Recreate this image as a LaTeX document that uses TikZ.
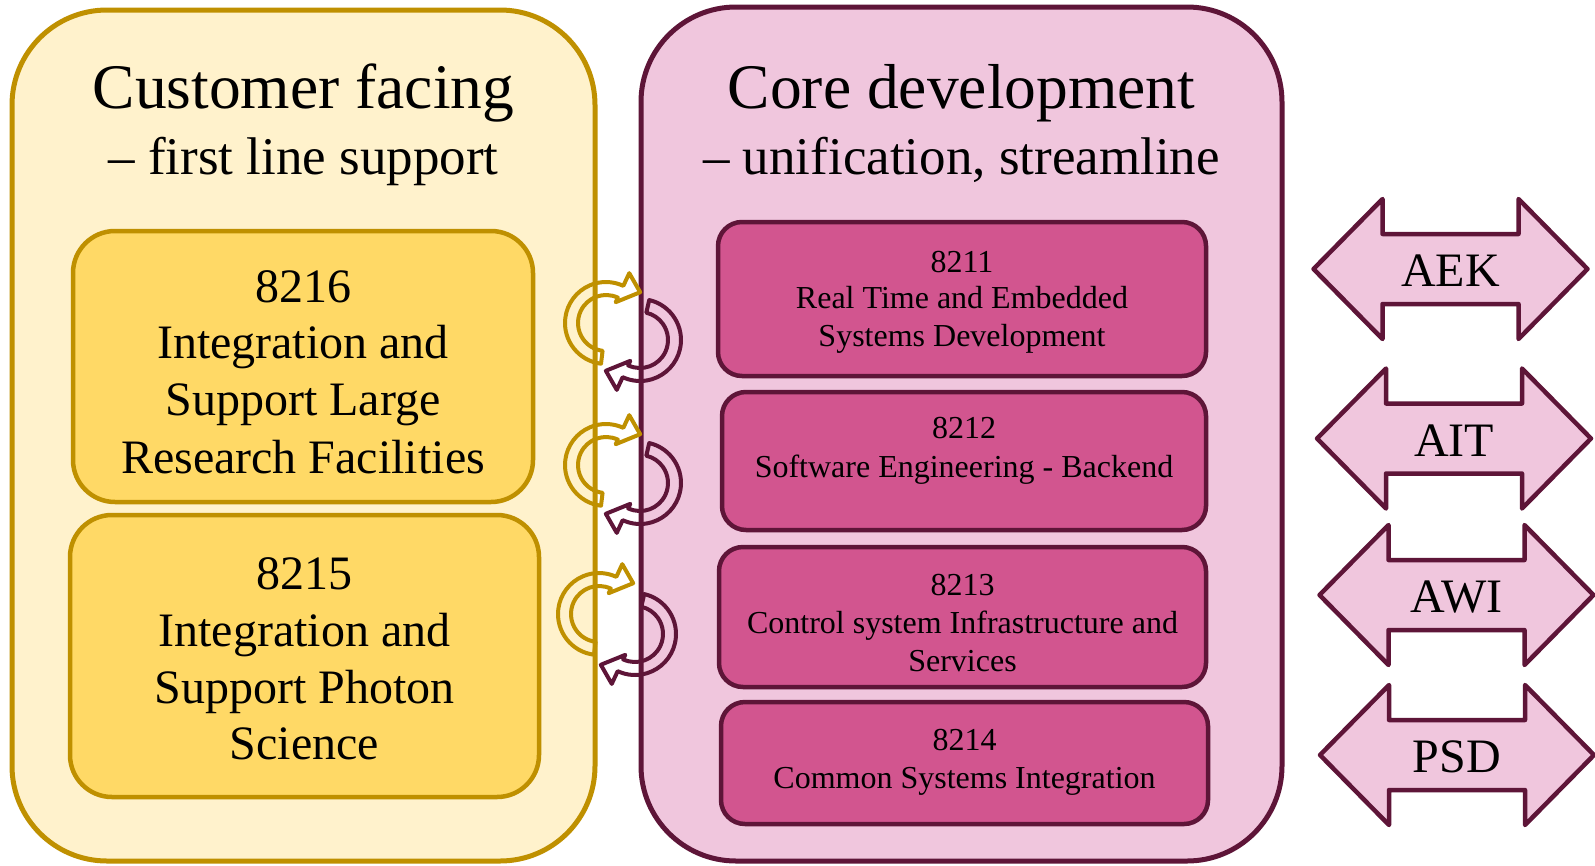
\documentclass[tikz,border=0pt]{standalone}
\usepackage{fontspec}
\setmainfont{LiberationSerif}[Extension=.ttf, UprightFont=*-Regular, BoldFont=*-Bold]

\definecolor{goldline}{HTML}{BF9000}
\definecolor{creambg}{HTML}{FFF2CC}
\definecolor{goldbox}{HTML}{FFD966}
\definecolor{plumline}{HTML}{5E1538}
\definecolor{pinkbg}{HTML}{F0C6DD}
\definecolor{pinkbox}{HTML}{D2558F}

% curved hollow arrow: centre x, centre y, tail angle, head-base angle, style
\newcommand{\swirl}[5]{%
  \pgfmathsetmacro{\swtip}{#4+23}%
  \draw[#5, shift={(#1,#2)}]
    (#3:41) arc[start angle=#3, end angle=#4, radius=41]
    -- (#4:55) -- (\swtip:46) -- (#4:23) -- (#4:28)
    arc[start angle=#4, end angle=#3, radius=28] -- cycle;}

% left-right block arrow with a label: name, centre x, centre y, label
\newcommand{\twoway}[4]{%
  \draw[dblarrow, shift={(#2,#3)}]
    (-137,0) -- (-68,-70) -- (-68,-35) -- (68,-35) -- (68,-70) -- (137,0)
    -- (68,70) -- (68,35) -- (-68,35) -- (-68,70) -- cycle;
  \node[arrowtext] (#1) at (#2,#3+17.5) {#4};}

\begin{document}
\begin{tikzpicture}[x=1pt,y=-1pt,
  leftpanel/.style={draw=goldline, fill=creambg, line width=5pt, rounded corners=95pt, inner sep=0pt},
  rightpanel/.style={draw=plumline, fill=pinkbg, line width=5pt, rounded corners=95pt, inner sep=0pt},
  ybox/.style={draw=goldline, fill=goldbox, line width=4.5pt, rounded corners=42pt, inner sep=0pt},
  pbox/.style={draw=plumline, fill=pinkbox, line width=4.5pt, rounded corners=24pt, inner sep=0pt},
  titletext/.style={anchor=base, inner sep=0pt, font=\fontsize{63.5}{66}\selectfont},
  subtext/.style={anchor=base, inner sep=0pt, font=\fontsize{53}{56}\selectfont},
  ytext/.style={anchor=base, inner sep=0pt, font=\fontsize{48}{57}\selectfont},
  ptext/.style={anchor=base, inner sep=0pt, font=\fontsize{32}{37}\selectfont},
  arrowtext/.style={anchor=base, inner sep=0pt, font=\fontsize{48}{52}\selectfont},
  dblarrow/.style={draw=plumline, fill=pinkbg, line width=4.5pt, line join=round},
  ygoldarrow/.style={draw=goldline, line width=4pt, line join=round},
  plumarrow/.style={draw=plumline, line width=4pt, line join=round}]
\useasboundingbox (0,0) rectangle (1595,865);

% the two large groups
\node[leftpanel, minimum width=583pt, minimum height=851pt] (cust) at (303.5,435.5) {};
\node[rightpanel, minimum width=641pt, minimum height=854pt] (core) at (961.5,434) {};

% group titles
\node[titletext] (custtitle) at (303.5,108) {Customer facing};
\node[subtext] (custsub) at (303.5,174) {– first line support};
\node[titletext] (coretitle) at (961.5,108) {Core development};
\node[subtext] (coresub) at (961.5,174) {– unification, streamline};

% customer facing groups
\node[ybox, minimum width=460pt, minimum height=271pt] (g8216) at (303,366.5) {};
\node[ytext] (g8216a) at (303,302) {8216};
\node[ytext] (g8216b) at (303,358) {Integration and};
\node[ytext] (g8216c) at (303,415) {Support Large};
\node[ytext] (g8216d) at (303,473) {Research Facilities};

\node[ybox, minimum width=469pt, minimum height=282pt] (g8215) at (304.5,656) {};
\node[ytext] (g8215a) at (304.5,589) {8215};
\node[ytext] (g8215b) at (304.5,646) {Integration and};
\node[ytext] (g8215c) at (304.5,703) {Support Photon};
\node[ytext] (g8215d) at (304.5,759) {Science};

% core development groups
\node[pbox, minimum width=488pt, minimum height=154pt] (g8211) at (962,299) {};
\node[ptext] (g8211a) at (962,272) {8211};
\node[ptext] (g8211b) at (962,308) {Real Time and Embedded};
\node[ptext] (g8211c) at (962,346) {Systems Development};

\node[pbox, minimum width=484pt, minimum height=138pt] (g8212) at (964,461) {};
\node[ptext] (g8212a) at (964,438) {8212};
\node[ptext] (g8212b) at (964,477) {Software Engineering - Backend};

\node[pbox, minimum width=487pt, minimum height=140pt] (g8213) at (962.5,617) {};
\node[ptext] (g8213a) at (962.5,595) {8213};
\node[ptext] (g8213b) at (962.5,633) {Control system Infrastructure and};
\node[ptext] (g8213c) at (962.5,671) {Services};

\node[pbox, minimum width=487pt, minimum height=122pt] (g8214) at (964.5,763) {};
\node[ptext] (g8214a) at (964.5,750) {8214};
\node[ptext] (g8214b) at (964.5,788) {Common Systems Integration};

% exchange arrows between the two groups
\swirl{606}{323}{97}{295}{ygoldarrow}
\swirl{640}{340}{283}{475}{plumarrow}
\swirl{606}{465}{97}{295}{ygoldarrow}
\swirl{640}{483}{283}{475}{plumarrow}
\swirl{599}{614}{97}{295}{ygoldarrow}
\swirl{635}{634}{283}{475}{plumarrow}

% partner links
\twoway{aek}{1450.5}{269}{AEK}
\twoway{ait}{1454}{438.5}{AIT}
\twoway{awi}{1456.5}{595}{AWI}
\twoway{psd}{1457}{755}{PSD}

\end{tikzpicture}
\end{document}
